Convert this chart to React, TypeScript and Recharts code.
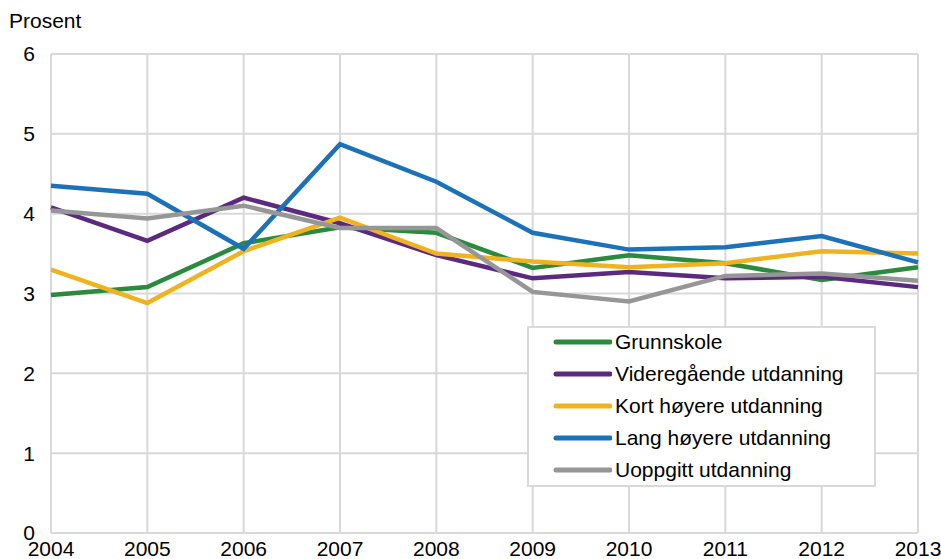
import { CartesianGrid, Line, LineChart, XAxis, YAxis } from "recharts";

const YEARS = ["2004", "2005", "2006", "2007", "2008", "2009", "2010", "2011", "2012", "2013"];

const GRUNNSKOLE = [2.98, 3.08, 3.63, 3.83, 3.76, 3.32, 3.48, 3.38, 3.17, 3.33];
const VIDEREGAENDE = [4.08, 3.66, 4.2, 3.88, 3.48, 3.19, 3.27, 3.19, 3.21, 3.08];
const KORT = [3.3, 2.88, 3.53, 3.95, 3.5, 3.4, 3.33, 3.38, 3.53, 3.5];
const LANG = [4.35, 4.25, 3.56, 4.87, 4.4, 3.76, 3.55, 3.58, 3.72, 3.39];
const UOPPGITT = [4.04, 3.94, 4.1, 3.82, 3.82, 3.02, 2.9, 3.22, 3.25, 3.16];

const Y_TICKS = [0, 1, 2, 3, 4, 5, 6];

const SERIES = [
  { key: "grunnskole", name: "Grunnskole", color: "#2a8a3e", values: GRUNNSKOLE },
  { key: "vgs", name: "Videregående utdanning", color: "#5b2a7f", values: VIDEREGAENDE },
  { key: "kort", name: "Kort høyere utdanning", color: "#efb320", values: KORT },
  { key: "lang", name: "Lang høyere utdanning", color: "#1c72b9", values: LANG },
  { key: "uoppgitt", name: "Uoppgitt utdanning", color: "#969696", values: UOPPGITT },
];

const data = YEARS.map((year, i) => {
  const row: Record<string, string | number> = { year };
  SERIES.forEach((s) => {
    row[s.key] = s.values[i];
  });
  return row;
});

const FONT = '"Liberation Sans", Arial, sans-serif';
const FS = 21;

function LegendBox() {
  return (
    <div
      style={{
        position: "absolute",
        left: 527,
        top: 326,
        boxSizing: "border-box",
        width: 349,
        height: 161,
        border: "2px solid #d9d9d9",
        background: "#fff",
        padding: "0 0 0 23px",
        fontFamily: FONT,
        fontSize: FS,
        color: "#000",
      }}
    >
      {SERIES.map((s, i) => (
        <div
          key={s.key}
          style={{ display: "flex", alignItems: "center", height: 32, marginTop: i === 0 ? -2 : 0 }}
        >
          <svg width={60} height={10} style={{ marginRight: 3 }}>
            <line x1={4} y1={5} x2={58} y2={5} stroke={s.color} strokeWidth={5} strokeLinecap="round" />
          </svg>
          <span>{s.name}</span>
        </div>
      ))}
    </div>
  );
}

export default function App() {
  return (
    <div style={{ position: "absolute", left: 0, top: 0, width: 941, height: 559, background: "#fff" }}>
      <LineChart
        width={941}
        height={559}
        data={data}
        margin={{ top: 54, right: 23, left: 11, bottom: 0 }}
      >
        <CartesianGrid stroke="#d9d9d9" strokeWidth={2} />
        <XAxis
          dataKey="year"
          axisLine={false}
          tickLine={false}
          height={26}
          interval={0}
          tick={{ fontSize: FS, fill: "#000", fontFamily: FONT }}
        />
        <YAxis
          width={40}
          domain={[0, 6]}
          ticks={Y_TICKS}
          axisLine={false}
          tickLine={false}
          tickMargin={10}
          tick={{ fontSize: FS, fill: "#000", fontFamily: FONT }}
        />
        {SERIES.map((s) => (
          <Line
            key={s.key}
            dataKey={s.key}
            name={s.name}
            type="linear"
            stroke={s.color}
            strokeWidth={4.5}
            dot={false}
            activeDot={false}
            isAnimationActive={false}
          />
        ))}
      </LineChart>
      <div
        style={{
          position: "absolute",
          left: 9,
          top: 9,
          fontFamily: FONT,
          fontSize: FS,
          color: "#000",
        }}
      >
        Prosent
      </div>
      <LegendBox />
    </div>
  );
}
